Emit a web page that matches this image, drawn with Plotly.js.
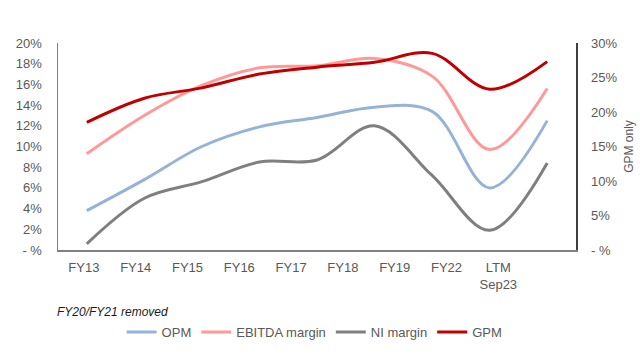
<!DOCTYPE html>
<html>
<head>
<meta charset="utf-8">
<script src="https://cdn.plot.ly/plotly-3.0.1.min.js"></script>
<style>
  html, body { margin: 0; padding: 0; background: #fff; }
  #chart { width: 640px; height: 354px; }
</style>
</head>
<body>
<div id="chart"></div>
<script>
// Categories and tick labels
const categories = ["FY13", "FY14", "FY15", "FY16", "FY17", "FY18", "FY19", "FY22", "LTM<br>Sep23"];
const leftTickVals = [0, 2, 4, 6, 8, 10, 12, 14, 16, 18, 20];
const leftTickText = ["- %", "2%", "4%", "6%", "8%", "10%", "12%", "14%", "16%", "18%", "20%"];
const rightTickVals = [0, 5, 10, 15, 20, 25, 30];
const rightTickText = ["- %", "5%", "10%", "15%", "20%", "25%", "30%"];

// Series values (%)
const opm    = [3.8, 6.8, 10.0, 11.9, 12.8, 13.8, 13.4, 6.0, 12.5];
const ebitda = [9.3, 13.0, 15.9, 17.6, 17.8, 18.5, 16.8, 9.7, 15.6];
const niMargin = [0.6, 5.0, 6.6, 8.5, 8.7, 12.0, 7.2, 1.9, 8.4];
const gpm    = [18.5, 22.0, 23.5, 25.5, 26.5, 27.2, 28.5, 23.3, 27.3];

const idx = categories.map((_, i) => i);
const font = "Liberation Sans, Arial, sans-serif";
const grey = "#595959";

function series(name, y, color, yaxis) {
  return {
    x: idx, y: y, name: name, type: "scatter", mode: "lines",
    xaxis: "x2", yaxis: yaxis,
    line: { color: color, width: 3, shape: "spline", smoothing: 1 },
    hoverinfo: "skip"
  };
}

// empty helper trace so the label axis (x) gets drawn
const axisHelper = {
  x: idx, y: idx.map(() => null), type: "scatter", mode: "lines",
  xaxis: "x", yaxis: "y", showlegend: false, hoverinfo: "skip"
};

const data = [
  axisHelper,
  series("OPM", opm, "#95B3D7", "y"),
  series("EBITDA margin", ebitda, "#FF9999", "y"),
  series("NI margin", niMargin, "#7F7F7F", "y"),
  series("GPM", gpm, "#C00000", "y2")
];

const layout = {
  width: 640, height: 354,
  margin: { l: 58, r: 64, t: 43, b: 104 },
  paper_bgcolor: "#fff", plot_bgcolor: "#fff",
  font: { family: font, size: 13, color: grey },
  showlegend: true,
  legend: {
    orientation: "h", xref: "container", yref: "container",
    x: 0.19, y: 0.062, xanchor: "left", yanchor: "middle",
    font: { family: font, size: 13, color: grey },
    itemwidth: 30, tracegroupgap: 0
  },
  xaxis: {
    range: [-0.5, 9.5], tickvals: idx, ticktext: categories,
    showgrid: false, zeroline: false, showline: true,
    linecolor: "#808080", linewidth: 1.5, ticks: "",
    ticklabelstandoff: 5,
    tickfont: { family: font, size: 13, color: grey }
  },
  xaxis2: {
    range: [-0.5, 8.5], overlaying: "x", visible: false
  },
  yaxis: {
    range: [0, 20], tickvals: leftTickVals, ticktext: leftTickText,
    showgrid: false, zeroline: false, showline: true,
    linecolor: "#808080", linewidth: 1.5, ticks: "",
    ticklabelstandoff: 12,
    tickfont: { family: font, size: 13, color: grey }
  },
  yaxis2: {
    range: [0, 30], tickvals: rightTickVals, ticktext: rightTickText,
    overlaying: "y", side: "right", anchor: "x",
    showgrid: false, zeroline: false, showline: true,
    linecolor: "#404040", linewidth: 1.5, ticks: "",
    ticklabelstandoff: 11,
    tickfont: { family: font, size: 13, color: grey },
    title: { text: "GPM only", font: { family: font, size: 12, color: grey }, standoff: 8 }
  },
  annotations: [{
    text: "<i>FY20/FY21 removed</i>", xref: "paper", yref: "paper",
    x: -0.006, y: -0.2995, xanchor: "left", yanchor: "middle",
    showarrow: false, font: { family: font, size: 12, color: "#1a1a1a" }
  }]
};

Plotly.newPlot("chart", data, layout, { staticPlot: true, displayModeBar: false });
</script>
</body>
</html>
